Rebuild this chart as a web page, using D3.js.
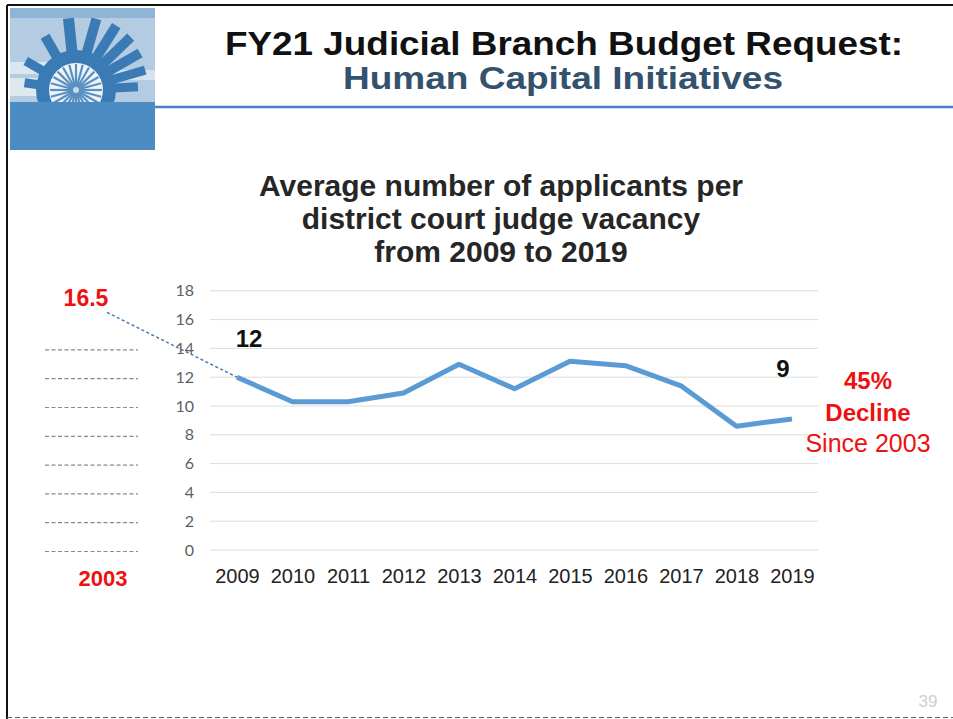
<!DOCTYPE html>
<html><head><meta charset="utf-8">
<script src="https://cdn.jsdelivr.net/npm/d3@7"></script>
<style>
html,body{margin:0;padding:0;background:#fff;}
svg{display:block;}
</style></head>
<body>
<svg id="c" width="953" height="719"></svg>
<script>
// ---- data ----
const years = ["2009","2010","2011","2012","2013","2014","2015","2016","2017","2018","2019"];
const applicants = [12.0, 10.3, 10.3, 10.9, 12.9, 11.2, 13.1, 12.8, 11.4, 8.6, 9.1];
const yTicks = [0, 2, 4, 6, 8, 10, 12, 14, 16, 18];
const leftDashTicks = [0, 2, 4, 6, 8, 10, 12, 14];
const baseYear = "2003";
const baseValue = 16.5;
const firstLabel = "12";
const lastLabel = "9";
const titleLines = ["FY21 Judicial Branch Budget Request:", "Human Capital Initiatives"];
const chartTitleLines = ["Average number of applicants per", "district court judge vacancy", "from 2009 to 2019"];
const declineLines = ["45%", "Decline", "Since 2003"];
const pageNumber = "39";

const svg = d3.select("#c");
const F = "'Liberation Sans', Arial, Helvetica, sans-serif";

// ---- slide frame ----
svg.append("line").attr("x1",7).attr("x2",953).attr("y1",5).attr("y2",5).attr("stroke","#111").attr("stroke-width",2);
svg.append("line").attr("x1",7).attr("x2",7).attr("y1",5).attr("y2",719).attr("stroke","#111").attr("stroke-width",2);
svg.append("line").attr("x1",7).attr("x2",953).attr("y1",717.5).attr("y2",717.5).attr("stroke","#666").attr("stroke-width",1).attr("stroke-dasharray","5,3");

// ---- logo ----
svg.append("defs").append("clipPath").attr("id","logoClip")
  .append("rect").attr("x",10).attr("y",8).attr("width",145).attr("height",142);
const logo = svg.append("g").attr("clip-path","url(#logoClip)");
logo.append("rect").attr("x",10).attr("y",8).attr("width",145).attr("height",142).attr("fill","#b4cce2");
logo.append("rect").attr("x",10).attr("y",8).attr("width",145).attr("height",10).attr("fill","#8fb4d8");
logo.append("rect").attr("x",10).attr("y",62).attr("width",60).attr("height",12).attr("fill","#dbe6f0");
logo.append("rect").attr("x",10).attr("y",78).attr("width",35).attr("height",18).attr("fill","#dde8f1");
logo.append("rect").attr("x",110).attr("y",70).attr("width",45).attr("height",10).attr("fill","#d6e2ee");
const cx = 76, cy = 90;
const rays = [[172,52,9],[150,58,9],[120,62,10],[96,72,11],[74,74,10],[58,76,10],[44,76,10],[30,74,10],[16,72,9],[3,62,9]];
rays.forEach(([a,len,w])=>{
  const r = a*Math.PI/180;
  const dx = Math.cos(r), dy = -Math.sin(r);
  const px = -dy*w/2, py = dx*w/2;
  const p = [[cx+px,cy+py],[cx+dx*len+px,cy+dy*len+py],[cx+dx*len-px,cy+dy*len-py],[cx-px,cy-py]];
  logo.append("polygon").attr("points",p.map(d=>d.join(",")).join(" ")).attr("fill","#3a7ab5");
});
logo.append("circle").attr("cx",cx).attr("cy",cy).attr("r",40).attr("fill","#3a7ab5");
logo.append("circle").attr("cx",cx).attr("cy",cy).attr("r",27).attr("fill","#eef3f8");
for (let i=0;i<24;i++){
  const r = i*15*Math.PI/180;
  logo.append("line").attr("x1",cx).attr("y1",cy).attr("x2",cx+Math.cos(r)*26).attr("y2",cy+Math.sin(r)*26)
    .attr("stroke","#5a8fc2").attr("stroke-width",2.2);
}
logo.append("circle").attr("cx",cx).attr("cy",cy).attr("r",3).attr("fill","#c9d9e8");
logo.append("rect").attr("x",10).attr("y",102).attr("width",145).attr("height",48).attr("fill","#4d8bc3");

// ---- header ----
svg.append("line").attr("x1",155).attr("x2",953).attr("y1",107).attr("y2",107).attr("stroke","#3f83cc").attr("stroke-width",2.5);
svg.append("text").attr("x",225).attr("y",55).attr("font-family",F).attr("font-weight","bold").attr("font-size",34)
  .attr("fill","#111").attr("textLength",678).attr("lengthAdjust","spacingAndGlyphs").text(titleLines[0]);
svg.append("text").attr("x",343).attr("y",89).attr("font-family",F).attr("font-weight","bold").attr("font-size",32)
  .attr("fill","#34526d").attr("textLength",440).attr("lengthAdjust","spacingAndGlyphs").text(titleLines[1]);

// ---- chart title ----
svg.append("g").selectAll("text").data(chartTitleLines).join("text")
  .attr("x",501).attr("y",(d,i)=>196+i*33).attr("text-anchor","middle")
  .attr("font-family",F).attr("font-weight","bold").attr("font-size",30).attr("fill","#262626").text(d=>d);

// ---- scales ----
const x = d3.scalePoint().domain(years).range([237, 792]);
const y = d3.scaleLinear().domain([0, 18]).range([550, 290.8]);
const xBase = 107; // position of the 2003 reference column

// gridlines
svg.append("g").selectAll("line").data(yTicks).join("line")
  .attr("x1",210).attr("x2",818).attr("y1",d=>y(d)).attr("y2",d=>y(d))
  .attr("stroke","#dcdcdc").attr("stroke-width",1);

// left dashed lines (2003 reference)
svg.append("g").selectAll("line").data(leftDashTicks).join("line")
  .attr("x1",45).attr("x2",138).attr("y1",d=>y(d)+1.5).attr("y2",d=>y(d)+1.5)
  .attr("stroke","#8a8a8a").attr("stroke-width",1.2).attr("stroke-dasharray","4,2.5");

// y axis
const yAxis = svg.append("g").attr("transform","translate(210,0)")
  .call(d3.axisLeft(y).tickValues(yTicks).tickSize(0).tickPadding(16));
yAxis.select(".domain").remove();
yAxis.selectAll("text").attr("font-family","Lato, 'Open Sans', sans-serif").attr("font-size",16).attr("fill","#606060");

// x axis
const xAxis = svg.append("g").attr("transform","translate(0,550)")
  .call(d3.axisBottom(x).tickSize(0).tickPadding(19));
xAxis.select(".domain").remove();
xAxis.selectAll("text").attr("font-family",F).attr("font-size",20).attr("fill","#222");

// dotted connector from 2003 value
svg.append("line").attr("x1",xBase).attr("y1",y(baseValue)).attr("x2",x(years[0])).attr("y2",y(applicants[0]))
  .attr("stroke","#4a78b0").attr("stroke-width",1.5).attr("stroke-dasharray","3,2.5");

// main line
const line = d3.line().x((d,i)=>x(years[i])).y(d=>y(d));
svg.append("path").datum(applicants).attr("d",line).attr("fill","none")
  .attr("stroke","#5b9bd5").attr("stroke-width",5).attr("stroke-linejoin","round");

// labels
svg.append("text").attr("x",86).attr("y",y(baseValue)-6).attr("text-anchor","middle")
  .attr("font-family",F).attr("font-weight","bold").attr("font-size",23).attr("fill","#ee1111").text(baseValue);
svg.append("text").attr("x",103).attr("y",586).attr("text-anchor","middle")
  .attr("font-family",F).attr("font-weight","bold").attr("font-size",22).attr("fill","#ee1111").text(baseYear);
svg.append("text").attr("x",x(years[0])+12).attr("y",347).attr("text-anchor","middle")
  .attr("font-family",F).attr("font-weight","bold").attr("font-size",24).attr("fill","#111").text(firstLabel);
svg.append("text").attr("x",x(years[years.length-1])-9).attr("y",377).attr("text-anchor","middle")
  .attr("font-family",F).attr("font-weight","bold").attr("font-size",24).attr("fill","#111").text(lastLabel);

svg.append("g").selectAll("text").data(declineLines).join("text")
  .attr("x",868).attr("y",(d,i)=>389+i*31.5).attr("text-anchor","middle")
  .attr("font-family",F).attr("font-weight",(d,i)=>i<2?"bold":"normal").attr("font-size",(d,i)=>i<2?24:25)
  .attr("fill","#ee1111").text(d=>d);

// page number
svg.append("text").attr("x",928).attr("y",707).attr("text-anchor","middle")
  .attr("font-family",F).attr("font-size",17).attr("fill","#cfcfcf").text(pageNumber);
</script>
</body></html>
